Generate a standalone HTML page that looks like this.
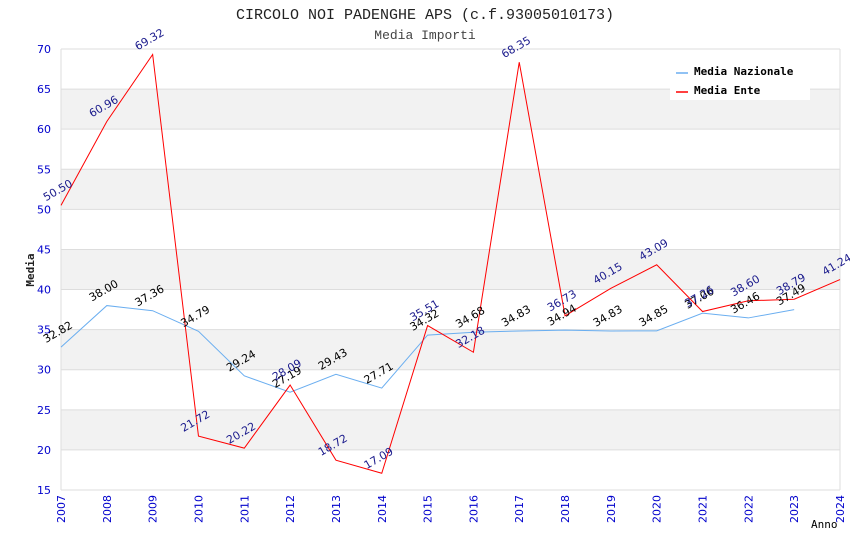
<!DOCTYPE html>
<html><head><meta charset="utf-8"><style>
body{margin:0;background:#fff;}
svg{display:block;font-family:"DejaVu Sans","Liberation Sans",sans-serif;}
</style></head><body>
<svg id="c" width="850" height="550" xmlns="http://www.w3.org/2000/svg">
<text x="425" y="19" text-anchor="middle" font-family="Liberation Mono, monospace" font-size="15" fill="#222">CIRCOLO NOI PADENGHE APS (c.f.93005010173)</text>
<text x="425" y="39" text-anchor="middle" font-family="Liberation Mono, monospace" font-size="13" fill="#444">Media Importi</text>
<g id="grid"></g><g id="axes"></g><g id="lines"></g><g id="labels"></g>
<text x="0" y="0" transform="translate(34,270) rotate(-90)" text-anchor="middle" font-family="DejaVu Sans Mono, Liberation Mono, monospace" font-size="11" font-weight="bold" fill="#222">Media</text>
<text x="811" y="528" font-family="DejaVu Sans Mono, Liberation Mono, monospace" font-size="11" fill="#000">Anno</text>
<g>
<rect x="670" y="62" width="140" height="38" fill="#fff"/>
<line x1="676" y1="73" x2="688" y2="73" stroke="#6aaef0" stroke-width="1.5"/>
<text x="694" y="75" font-family="DejaVu Sans Mono, Liberation Mono, monospace" font-size="11" font-weight="bold">Media Nazionale</text>
<line x1="676" y1="92" x2="688" y2="92" stroke="#f00" stroke-width="1.5"/>
<text x="694" y="94" font-family="DejaVu Sans Mono, Liberation Mono, monospace" font-size="11" font-weight="bold">Media Ente</text>
</g>
</svg>
<script>
const years=[2007,2008,2009,2010,2011,2012,2013,2014,2015,2016,2017,2018,2019,2020,2021,2022,2023,2024];
const nazionale=[32.82,38.00,37.36,34.79,29.24,27.19,29.43,27.71,34.32,34.68,34.83,34.94,34.83,34.85,37.06,36.46,37.49,null];
const ente=[50.50,60.96,69.32,21.72,20.22,28.09,18.72,17.09,35.51,32.18,68.35,36.73,40.15,43.09,37.26,38.60,38.79,41.24];
const yTicks=[15,20,25,30,35,40,45,50,55,60,65,70];
const NS="http://www.w3.org/2000/svg";
const X0=61,X1=840,Y0=490,Y1=49;
const xs=i=>X0+(X1-X0)*(years[i]-years[0])/(years[years.length-1]-years[0]);
const ys=v=>Y0-(Y0-Y1)*(v-15)/(70-15);
function mk(t,a,p){const e=document.createElementNS(NS,t);for(const k in a)e.setAttribute(k,a[k]);p.appendChild(e);return e;}
const grid=document.getElementById('grid'),axes=document.getElementById('axes'),lines=document.getElementById('lines'),labels=document.getElementById('labels');
for(let i=0;i<yTicks.length-1;i++){
  if(i%2==1){const r=mk('rect',{x:X0,y:ys(yTicks[i+1]),width:X1-X0,height:ys(yTicks[i])-ys(yTicks[i+1]),fill:'#f2f2f2'},grid);
  
  }
}
yTicks.forEach(v=>{
  const l=mk('line',{x1:X0,x2:X1,y1:ys(v),y2:ys(v),stroke:'#ddd'},grid);
  
  
  const t=mk('text',{x:X0-10,y:ys(v)+4,'text-anchor':'end','font-size':11,fill:'#00c'},axes);
  
  
  t.textContent=v;
});
mk('line',{x1:X0,x2:X0,y1:Y1,y2:Y0,stroke:'#ddd'},axes);
mk('line',{x1:X1,x2:X1,y1:Y1,y2:Y0,stroke:'#ddd'},axes);
years.forEach((yr,i)=>{
  const t=mk('text',{transform:`translate(${xs(i)+4},${Y0+5}) rotate(-90)`,'text-anchor':'end','font-size':11,fill:'#00c'},axes);
  
  
  t.textContent=yr;
});
function series(arr,color,lc,name){
  const pts=arr.map((v,i)=>v==null?null:[xs(i),ys(v)]).filter(p=>p);
  const pl=mk('polyline',{points:pts.map(p=>p.join(',')).join(' '),fill:'none',stroke:color,'stroke-width':1},lines);
  
  
  arr.forEach((v,i)=>{if(v==null)return;
    const t=mk('text',{transform:`translate(${xs(i)-15},${ys(v)-4}) rotate(-30)`,'font-size':11,fill:lc},labels);
    
    
    t.textContent=v.toFixed(2);});
}
series(nazionale,'#6aaef0','#000','nazionale');
series(ente,'#f00','#1a1a8c','ente');
</script>
</body></html>
